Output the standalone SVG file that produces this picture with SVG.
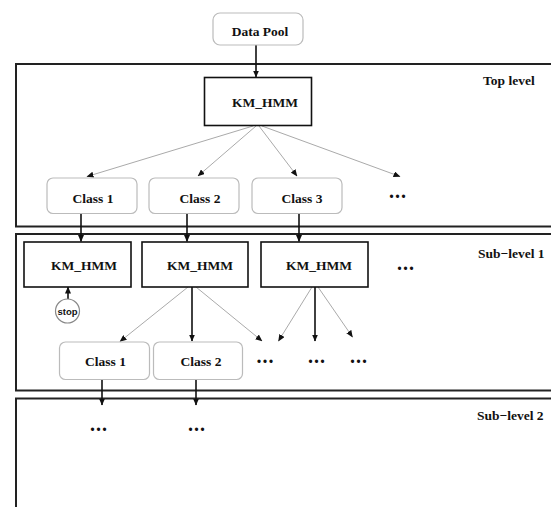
<svg xmlns="http://www.w3.org/2000/svg" width="551" height="507" viewBox="0 0 551 507">
<defs>
<marker id="ah" markerUnits="userSpaceOnUse" markerWidth="7" markerHeight="6" refX="6.5" refY="3" orient="auto">
<path d="M0,0 L7,3 L0,6 Z" fill="#111"/>
</marker>
<style>
.panel{fill:none;stroke:#222;stroke-width:2}
.km{fill:#fff;stroke:#111;stroke-width:1.6}
.cls{fill:#fff;stroke:#bbb;stroke-width:1.2}
.t{font-family:"Liberation Serif","Times New Roman",serif;font-weight:bold;font-size:13.5px;fill:#111;text-anchor:middle}
.lbl{font-family:"Liberation Serif","Times New Roman",serif;font-weight:bold;font-size:13.5px;fill:#111}
.dots{font-family:"Liberation Serif","Times New Roman",serif;font-weight:bold;font-size:20px;fill:#111;text-anchor:middle;letter-spacing:1px}
.g{stroke:#aaa;stroke-width:1;fill:none}
.b{stroke:#111;stroke-width:1.6;fill:none}
</style>
</defs>
<rect width="551" height="507" fill="#fff"/>
<g id="panels">
<rect class="panel" x="16" y="64" width="560" height="162.5"/>
<rect class="panel" x="16" y="234" width="560" height="156.5"/>
<rect class="panel" x="16" y="398.5" width="560" height="130"/>
<text class="lbl" x="483" y="85">Top level</text>
<text class="lbl" x="478" y="258">Sub−level 1</text>
<text class="lbl" x="477" y="420">Sub−level 2</text>
</g>
<g id="connectors">
<line class="b" x1="256" y1="45" x2="256" y2="77" marker-end="url(#ah)"/>
<line class="g" x1="253" y1="126" x2="87" y2="176.5" marker-end="url(#ah)"/>
<line class="g" x1="256" y1="126" x2="198" y2="176" marker-end="url(#ah)"/>
<line class="g" x1="259" y1="126" x2="297" y2="176" marker-end="url(#ah)"/>
<line class="g" x1="262" y1="126" x2="400" y2="176.5" marker-end="url(#ah)"/>
<line class="b" x1="81" y1="213.5" x2="81" y2="241.5" marker-end="url(#ah)"/>
<line class="b" x1="187" y1="213.5" x2="187" y2="241.5" marker-end="url(#ah)"/>
<line class="b" x1="299" y1="213.5" x2="299" y2="241.5" marker-end="url(#ah)"/>
<line class="b" x1="68" y1="299" x2="68" y2="287" marker-end="url(#ah)"/>
<line class="g" x1="188" y1="287" x2="120" y2="341.5" marker-end="url(#ah)"/>
<line class="b" x1="192" y1="287" x2="192" y2="341" marker-end="url(#ah)"/>
<line class="g" x1="196" y1="287" x2="262" y2="341" marker-end="url(#ah)"/>
<line class="g" x1="312" y1="287" x2="278.5" y2="341" marker-end="url(#ah)"/>
<line class="b" x1="315" y1="287" x2="315" y2="341" marker-end="url(#ah)"/>
<line class="g" x1="318" y1="287" x2="352.5" y2="337" marker-end="url(#ah)"/>
<line class="b" x1="102" y1="379.5" x2="102" y2="405" marker-end="url(#ah)"/>
<line class="b" x1="196" y1="379.5" x2="196" y2="405" marker-end="url(#ah)"/>
</g>
<g id="data-pool">
<rect class="cls" x="213" y="13" width="90" height="32" rx="7"/>
<text class="t" x="260" y="36">Data Pool</text>
</g>
<g id="km-top">
<rect class="km" x="204.5" y="77.5" width="107" height="48"/>
<text class="t" x="265" y="107">KM_HMM</text>
</g>
<g id="class1-top">
<rect class="cls" x="47" y="178" width="90" height="35.5" rx="6"/>
<text class="t" x="93" y="203">Class 1</text>
</g>
<g id="class2-top">
<rect class="cls" x="149" y="178" width="90" height="35.5" rx="6"/>
<text class="t" x="200" y="203">Class 2</text>
</g>
<g id="class3-top">
<rect class="cls" x="252" y="178" width="90" height="35.5" rx="6"/>
<text class="t" x="302" y="203">Class 3</text>
</g>
<g id="dots-top"><text class="dots" x="398" y="198">...</text></g>
<g id="km-sub1-a">
<rect class="km" x="24" y="242" width="107" height="45"/>
<text class="t" x="84" y="270">KM_HMM</text>
</g>
<g id="km-sub1-b">
<rect class="km" x="142" y="242" width="106" height="45"/>
<text class="t" x="200" y="270">KM_HMM</text>
</g>
<g id="km-sub1-c">
<rect class="km" x="261" y="242" width="107" height="45"/>
<text class="t" x="319" y="270">KM_HMM</text>
</g>
<g id="dots-sub1"><text class="dots" x="406" y="270">...</text></g>
<g id="stop">
<circle cx="67.5" cy="311" r="12" fill="#fff" stroke="#888" stroke-width="1.2"/>
<text x="67.5" y="314.5" font-family="'Liberation Sans',Arial,sans-serif" font-weight="bold" font-size="9.5" text-anchor="middle" fill="#111">stop</text>
</g>
<g id="class1-sub1">
<rect class="cls" x="59.5" y="342" width="90" height="37.5" rx="6"/>
<text class="t" x="105.5" y="366">Class 1</text>
</g>
<g id="class2-sub1">
<rect class="cls" x="153.5" y="342" width="89" height="37.5" rx="6"/>
<text class="t" x="201" y="366">Class 2</text>
</g>
<g id="dots-sub1-row">
<text class="dots" x="265.5" y="362.5">...</text>
<text class="dots" x="317" y="362.5">...</text>
<text class="dots" x="359" y="362.5">...</text>
</g>
<g id="dots-sub2">
<text class="dots" x="99" y="430.5">...</text>
<text class="dots" x="197" y="430.5">...</text>
</g>
</svg>
